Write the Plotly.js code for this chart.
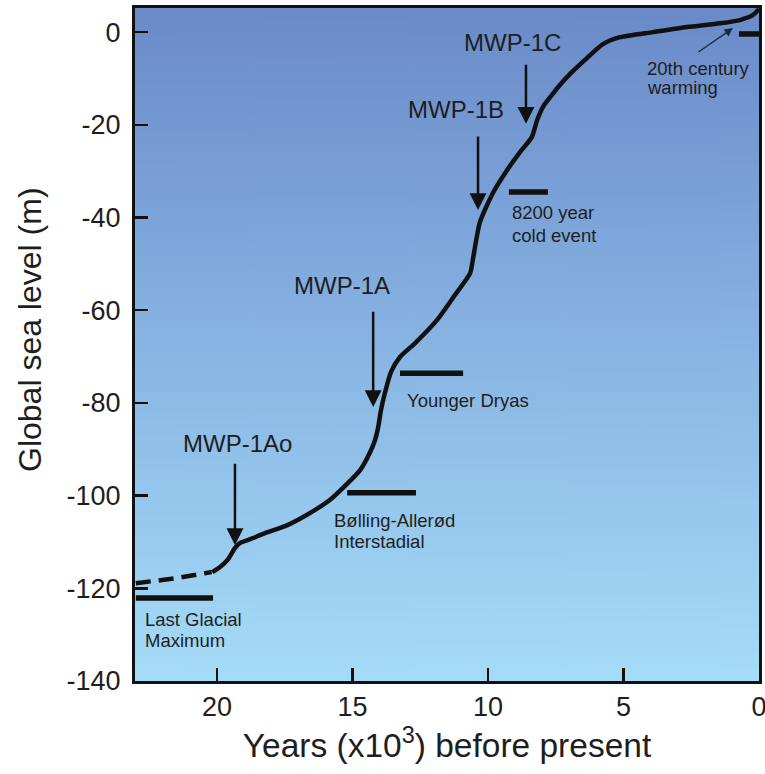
<!DOCTYPE html>
<html><head><meta charset="utf-8">
<script src="https://cdn.plot.ly/plotly-3.0.1.min.js"></script>
<style>html,body{margin:0;padding:0;background:#fff}</style>
</head><body><div id="chart" style="width:765px;height:774px"></div>
<script>
// ---------------- data ----------------
const xTicks = [20, 15, 10, 5, 0];
const yTicks = [0, -20, -40, -60, -80, -100, -120, -140];

// reconstructed (uncertain) part of the curve
const dashedAge   = [23.0, 21.6, 20.2];
const dashedLevel = [-118.9, -117.9, -116.5];

// sea-level curve (kyr BP, m)
const curveAge = [20.18, 19.89, 19.59, 19.34, 19.15, 18.78, 18.23, 17.49, 16.94, 16.38,
  15.83, 15.28, 14.72, 14.35, 14.17, 14.06, 13.95, 13.80, 13.58, 13.25,
  12.69, 11.88, 11.22, 10.66, 10.55, 10.30, 9.82, 9.30, 8.82, 8.38,
  8.19, 7.95, 7.70, 7.45, 6.90, 6.35, 5.76, 5.13, 3.91, 2.66,
  1.44, 0.70, 0.22, 0.0];
const curveLevel = [-116.5, -115.4, -113.7, -111.3, -110.2, -109.4, -108.1, -106.6, -105.0, -103.1,
  -100.9, -97.9, -94.5, -90.6, -88.0, -85.4, -81.5, -77.7, -73.3, -70.1,
  -67.1, -62.1, -56.7, -52.0, -48.7, -41.0, -34.7, -29.8, -25.9, -22.6,
  -19.0, -15.9, -14.0, -12.1, -8.6, -5.6, -2.6, -1.1, 0.0, 1.1,
  1.9, 2.6, 3.7, 5.0];

// climatic events (horizontal bars)
const eventNames = ['Last Glacial<br>Maximum', 'Bølling-Allerød<br>Interstadial', 'Younger Dryas', '8200 year<br>cold event', '20th century<br>warming'];
const eventStart = [23.0, 15.2, 13.25, 9.23, 0.74];
const eventEnd   = [20.15, 12.66, 10.92, 7.79, 0.0];
const eventLevel = [-122.1, -99.4, -73.6, -34.5, -0.4];

// meltwater pulses (arrows)
const pulseNames = ['MWP-1Ao', 'MWP-1A', 'MWP-1B', 'MWP-1C'];
const pulseAge   = [19.34, 14.24, 10.37, 8.6];
const pulseFrom  = [-92.8, -60.0, -22.2, -6.7];
const pulseTo    = [-110.7, -80.9, -38.4, -19.8];

// 20th century warming pointer
const warmArrowFrom = [2.29, -4.5];
const warmArrowTo   = [0.96, 0.86];

// ---------------- placement of texts (layout) ----------------
const pulseLabelPos = [[19.26, -88.7], [15.39, -54.6], [11.18, -16.8], [9.08, -2.2]];
const eventLabelPos = [[22.73, -129.1], [15.76, -107.7], [13.06, -79.4], [9.19, -41.5], [4.2, -9.8]];
const eventLineGap = [21, 21, 21, 23, 19];

const FONT = 'Liberation Sans, Arial, sans-serif';
const INK = '#111';
const TXT = '#1e1e1e';

// gradient background image
function gradientURL() {
  const c = document.createElement('canvas');
  c.width = 8; c.height = 400;
  const g = c.getContext('2d');
  const gr = g.createLinearGradient(0, 0, 0, 400);
  gr.addColorStop(0, '#6a8ac8');
  gr.addColorStop(0.5, '#88b4e3');
  gr.addColorStop(1, '#a5dcf7');
  g.fillStyle = gr; g.fillRect(0, 0, 8, 400);
  return c.toDataURL('image/png');
}

const traces = [];
traces.push({x: dashedAge, y: dashedLevel, mode: 'lines', line: {color: INK, width: 4.5, dash: '15px,8px'}, hoverinfo: 'skip'});
traces.push({x: curveAge, y: curveLevel, mode: 'lines', line: {color: INK, width: 4.5, shape: 'spline', smoothing: 0.6}, hoverinfo: 'skip'});
for (let i = 0; i < eventNames.length; i++) {
  traces.push({x: [eventStart[i], eventEnd[i]], y: [eventLevel[i], eventLevel[i]], mode: 'lines',
    line: {color: INK, width: 5.5}, hoverinfo: 'skip'});
}

const annotations = [];
for (let i = 0; i < pulseNames.length; i++) {
  annotations.push({x: pulseAge[i], y: pulseTo[i], ax: pulseAge[i], ay: pulseFrom[i], axref: 'x', ayref: 'y',
    xref: 'x', yref: 'y', text: '', showarrow: true, arrowhead: 2, arrowsize: 1.35, arrowwidth: 2.5,
    arrowcolor: INK, standoff: 0});
  annotations.push({x: pulseLabelPos[i][0], y: pulseLabelPos[i][1], xref: 'x', yref: 'y', text: pulseNames[i],
    showarrow: false, xanchor: 'center', yanchor: 'middle', font: {family: FONT, size: 24, color: TXT}});
}
for (let i = 0; i < eventNames.length; i++) {
  const lines = eventNames[i].split('<br>');
  const fs = 18.5;
  lines.forEach((ln, k) => {
    annotations.push({x: eventLabelPos[i][0], y: eventLabelPos[i][1], xref: 'x', yref: 'y', text: ln,
      showarrow: false, xanchor: 'left', yanchor: 'middle', yshift: -k * eventLineGap[i] + (lines.length - 1) * eventLineGap[i] / 2,
      font: {family: FONT, size: fs, color: TXT}});
  });
}
annotations.push({x: warmArrowTo[0], y: warmArrowTo[1], ax: warmArrowFrom[0], ay: warmArrowFrom[1], axref: 'x', ayref: 'y',
  xref: 'x', yref: 'y', text: '', showarrow: true, arrowhead: 2, arrowsize: 1.3, arrowwidth: 1.3, arrowcolor: '#1a2a44', standoff: 0});

// y-axis title placed as rotated annotation
annotations.push({xref: 'paper', yref: 'paper', x: 0, y: (681 - 330) / 673, xshift: -105, text: 'Global sea level (m)',
  textangle: -90, showarrow: false, xanchor: 'center', yanchor: 'middle', font: {family: FONT, size: 32, color: TXT}});

const axisCommon = {
  showgrid: false, zeroline: false, showline: true, linewidth: 3, linecolor: INK, mirror: true,
  ticks: 'inside', ticklen: 13, tickwidth: 2.5, tickcolor: INK, ticklabeloverflow: 'allow',
  tickfont: {family: FONT, size: 27, color: TXT}
};

const layout = {
  width: 765, height: 774,
  margin: {l: 135, r: 6, t: 8, b: 93},
  paper_bgcolor: '#fff', plot_bgcolor: 'rgba(0,0,0,0)',
  showlegend: false,
  xaxis: Object.assign({}, axisCommon, {range: [23.03, 0], tickvals: xTicks, ticktext: xTicks.map(String),
    title: {text: 'Years (x10<sup>3</sup>) before present', font: {family: FONT, size: 33.5, color: TXT}, standoff: 8}}),
  yaxis: Object.assign({}, axisCommon, {range: [-140, 5.2], tickvals: yTicks, ticktext: yTicks.map(String),
    ticklabelstandoff: 6}),
  images: [{source: gradientURL(), xref: 'paper', yref: 'paper', x: 0, y: 1, sizex: 1, sizey: 1,
    sizing: 'stretch', xanchor: 'left', yanchor: 'top', layer: 'below'}],
  annotations: annotations
};

Plotly.newPlot('chart', traces, layout, {staticPlot: true, displayModeBar: false});
</script>
</body></html>
